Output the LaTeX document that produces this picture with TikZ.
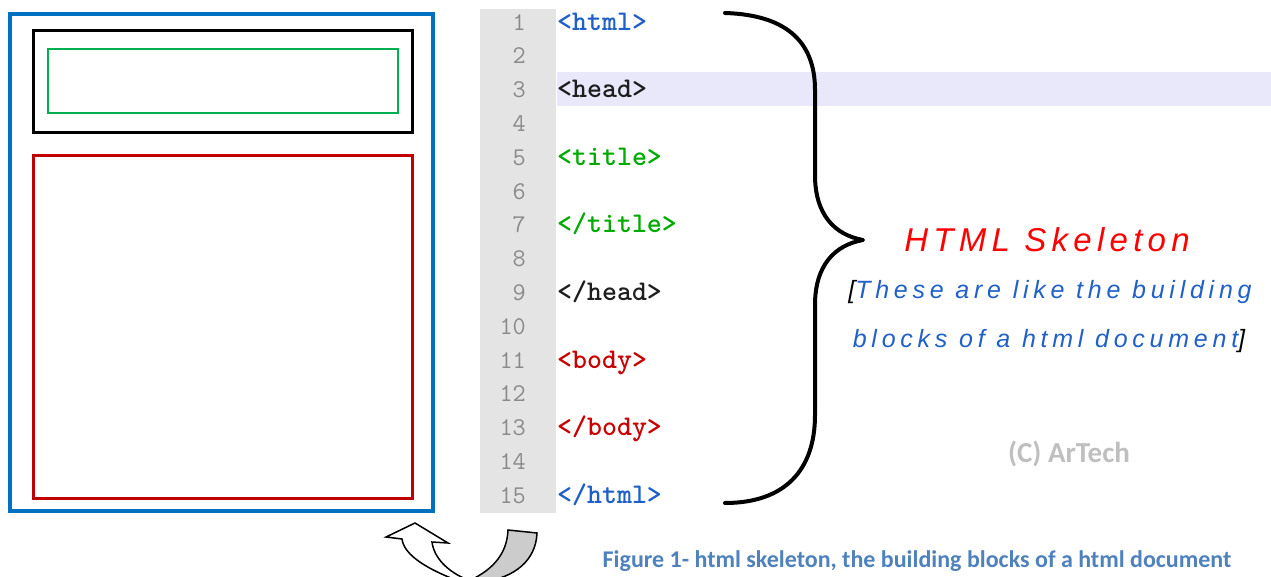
\documentclass[tikz,border=0pt]{standalone}
\usepackage{fontspec}
\newfontfamily\skelfont{Liberation Sans}[LetterSpace=16]
\newfontfamily\subfont{Liberation Sans}[LetterSpace=19]
\newfontfamily\calfont{Carlito}
\definecolor{wblue}{HTML}{0070C0}
\definecolor{wgreen}{HTML}{00B050}
\definecolor{wred}{HTML}{C00000}
\definecolor{gutter}{HTML}{E4E4E4}
\definecolor{hilite}{HTML}{E8E8FA}
\definecolor{numgray}{HTML}{8A8A8A}
\definecolor{taghtml}{RGB}{30,95,200}
\definecolor{taghead}{RGB}{30,30,30}
\definecolor{tagtitle}{RGB}{0,170,0}
\definecolor{tagbody}{RGB}{200,0,0}
\definecolor{skelred}{RGB}{255,0,0}
\definecolor{subblue}{RGB}{32,96,200}
\definecolor{captblue}{HTML}{4F81BD}
\definecolor{copygray}{HTML}{BFBFBF}
\tikzset{
  numstyle/.style={anchor=mid east, inner sep=0pt, text=numgray, font=\ttfamily\fontsize{25.5}{27}\selectfont},
  tagstyle/.style={anchor=mid west, inner sep=0pt, font=\ttfamily\bfseries\fontsize{28.5}{30}\selectfont},
}
\begin{document}
\begin{tikzpicture}[x=1pt,y=-1pt]
\clip (0,0) rectangle (1271,577);
\fill[white] (0,0) rectangle (1271,577);
% page mockup
\draw[wblue, line width=3.5pt] (10,14) rectangle (433,511);
\draw[black, line width=3pt] (33,31) rectangle (412,133);
\draw[wgreen, line width=2.5pt] (48,49) rectangle (398,113);
\draw[wred, line width=3pt] (33,156) rectangle (412,498);
% editor
\fill[gutter] (480,9) rectangle (556,513);
\fill[hilite] (557,72) rectangle (1271,106);
\foreach \i in {1,...,15}
  \node[numstyle] (n\i) at (526,{28+(\i-1)*33.8}) {\i};
\node[tagstyle, text=taghtml]  (t1)  at (557,28)        {<html>};
\node[tagstyle, text=taghead]  (t3)  at (557,{28+2*33.8})  {<head>};
\node[tagstyle, text=tagtitle] (t5)  at (557,{28+4*33.8})  {<title>};
\node[tagstyle, text=tagtitle] (t7)  at (557,{28+6*33.8})  {</title>};
\node[tagstyle, text=taghead]  (t9)  at (557,{28+8*33.8})  {</head>};
\node[tagstyle, text=tagbody]  (t11) at (557,{28+10*33.8}) {<body>};
\node[tagstyle, text=tagbody]  (t13) at (557,{28+12*33.8}) {</body>};
\node[tagstyle, text=taghtml]  (t15) at (557,{28+14*33.8}) {</html>};
% brace
\draw[line width=4pt, line cap=round, line join=round]
  (725,13) .. controls (790,15) and (815,45) .. (815,90)
  -- (815,175) .. controls (815,215) and (835,235) .. (863,240)
  .. controls (835,245) and (815,265) .. (815,305)
  -- (815,415) .. controls (815,470) and (785,503) .. (725,503);
% texts
\node[inner sep=0pt, text=skelred, font=\skelfont\itshape\fontsize{33}{35}\selectfont] (skel) at (1047,240) {HTML Skeleton};
\node[inner sep=0pt, font=\subfont\itshape\fontsize{25}{27}\selectfont] (sub1) at (1050,292) {[\textcolor{subblue}{These are like the building}};
\node[inner sep=0pt, font=\subfont\itshape\fontsize{25}{27}\selectfont] (sub2) at (1049,341) {\textcolor{subblue}{blocks of a html document}]};
\node[inner sep=0pt, text=copygray, font=\calfont\bfseries\fontsize{29}{31}\selectfont] (copy) at (1069,454) {(C) ArTech};
\node[inner sep=0pt, text=captblue, font=\calfont\bfseries\fontsize{24}{26}\selectfont] (capt) at (917,561) {Figure 1- html skeleton, the building blocks of a html document};
% curved arrow
\draw[line width=1.5pt, fill=white, line join=miter]
  (402,539) -- (386,537) -- (415,523) -- (448,543) -- (432,542)
  .. controls (434,558) and (448,572) .. (468,580)
  -- (456,580)
  .. controls (430,570) and (404,556) .. cycle;
\draw[line width=1.5pt, fill=black!20]
  (508,530) -- (537,533)
  .. controls (536,560) and (515,578) .. (482,582)
  -- (466,582)
  .. controls (490,572) and (507,556) .. cycle;
\end{tikzpicture}
\end{document}
